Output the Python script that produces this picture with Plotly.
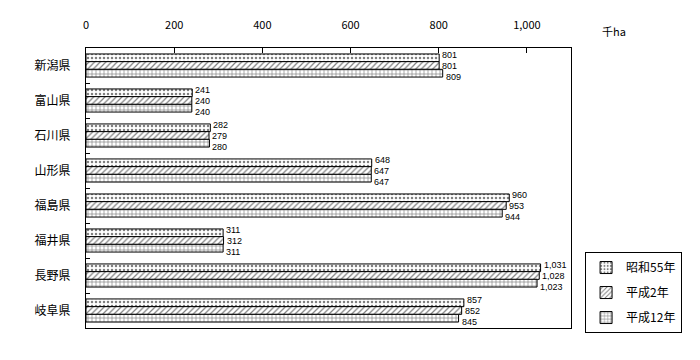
import plotly.graph_objects as go

prefectures = ["新潟県", "富山県", "石川県", "山形県", "福島県", "福井県", "長野県", "岐阜県"]
s55 = [801, 241, 282, 648, 960, 311, 1031, 857]
h2 = [801, 240, 279, 647, 953, 312, 1028, 852]
h12 = [809, 240, 280, 647, 944, 311, 1023, 845]
x_ticks = [0, 200, 400, 600, 800, 1000]
x_tick_labels = ["0", "200", "400", "600", "800", "1,000"]

font_family = "Noto Sans CJK JP, DejaVu Sans, sans-serif"
num_font = "Liberation Sans, Arial, sans-serif"

def fmt(v):
    return f"{v:,}"

series = [
    ("昭和55年", s55, ".", -11),
    ("平成2年", h2, "/", 0),
    ("平成12年", h12, "+", 11),
]

fig = go.Figure()
for name, vals, shape, shift in series:
    fig.add_trace(go.Bar(
        y=prefectures, x=vals, orientation="h", name=name,
        legendgroup=name,
        marker=dict(color="white",
                    line=dict(color="black", width=1),
                    pattern=dict(shape=shape, fgcolor="black", bgcolor="white",
                                 size=4, solidity=0.3)),
    ))
    for p, v in zip(prefectures, vals):
        fig.add_annotation(x=v, y=p, text=fmt(v), showarrow=False,
                           xanchor="left", yanchor="middle", xshift=2,
                           yshift=-shift, borderpad=0,
                           font=dict(size=9, color="black", family=num_font))

fig.update_layout(
    width=692, height=352,
    margin=dict(l=78, r=129, t=40, b=32, autoexpand=False),
    paper_bgcolor="white", plot_bgcolor="white",
    barmode="group", bargap=0.34, bargroupgap=0,
    font=dict(family=font_family, size=11, color="black"),
    showlegend=True,
    legend=dict(x=1.029, y=-0.018, xanchor="left", yanchor="bottom",
                traceorder="grouped", tracegroupgap=6,
                bordercolor="black", borderwidth=1, bgcolor="white",
                font=dict(size=12, family=font_family)),
)
fig.update_xaxes(
    range=[0, 1100], side="top", tickvals=x_ticks, ticktext=x_tick_labels,
    ticks="inside", ticklen=5, tickcolor="black", ticklabelstandoff=14,
    showgrid=False, zeroline=False, showline=True, linecolor="black",
    linewidth=1, mirror=True, tickfont=dict(size=11),
)
fig.update_yaxes(
    autorange="reversed", ticks="inside", tickson="boundaries", ticklen=4,
    tickcolor="black", showgrid=False, showline=True, linecolor="black",
    linewidth=1, mirror=True, tickfont=dict(size=12), ticklabelstandoff=12,
)
fig.add_annotation(text="千ha", xref="paper", yref="paper", x=1.06, y=1.06,
                   xanchor="left", yanchor="middle", showarrow=False,
                   font=dict(size=11, family=font_family))

fig.write_html("out.html")
